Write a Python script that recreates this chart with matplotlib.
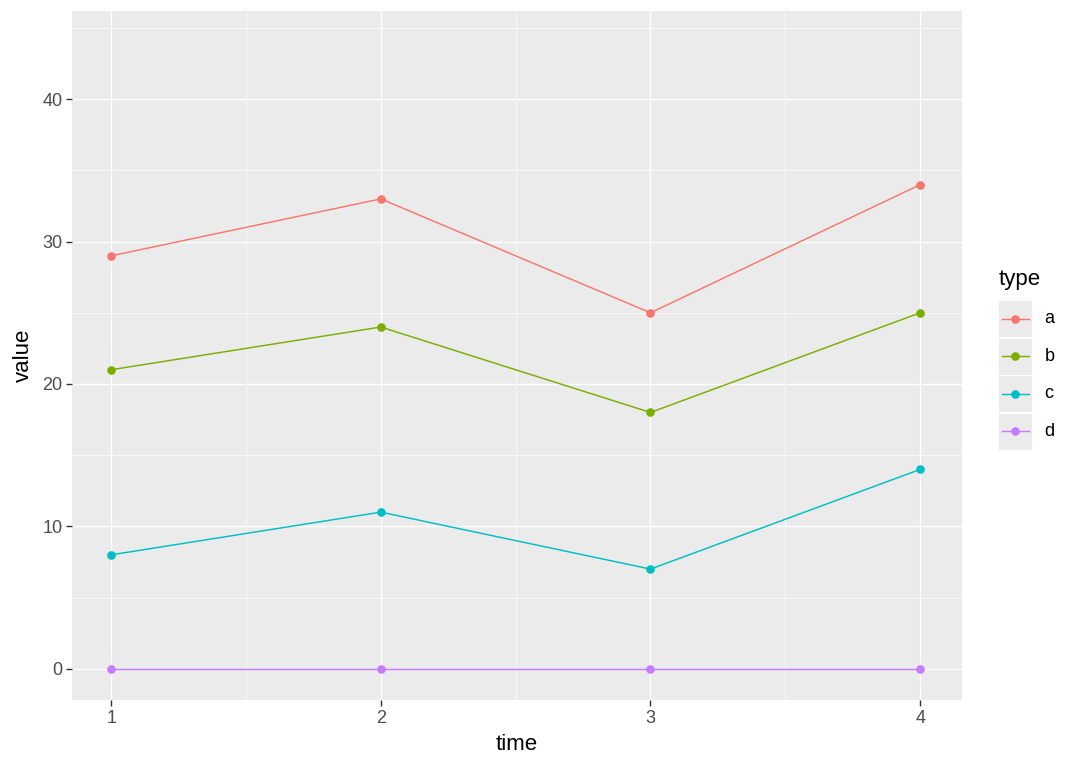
import matplotlib.pyplot as plt
from matplotlib.lines import Line2D
from matplotlib.patches import Rectangle

plt.rcParams['font.family'] = ['Liberation Sans', 'DejaVu Sans']

# data
time = [1, 2, 3, 4]
types = ['a', 'b', 'c', 'd']
values = {
    'a': [29, 33, 25, 34],
    'b': [21, 24, 18, 25],
    'c': [8, 11, 7, 14],
    'd': [0, 0, 0, 0],
}
colors = {'a': '#F8766D', 'b': '#7CAE00', 'c': '#00BFC4', 'd': '#C77CFF'}
x_ticks = [1, 2, 3, 4]
y_ticks = [0, 10, 20, 30, 40]

fig = plt.figure(figsize=(10.8, 7.71), dpi=100)
ax = fig.add_axes([0.0667, 0.092, 0.824, 0.8938])
ax.set_facecolor('#EBEBEB')

for t in types:
    ax.plot(time, values[t], color=colors[t], lw=1.05, marker='o', ms=5.2, zorder=3)

ax.set_xlim(0.855, 4.155)
ax.set_ylim(-2.2, 46.2)
ax.set_xticks(x_ticks)
ax.set_yticks(y_ticks)
ax.set_xticks([1.5, 2.5, 3.5], minor=True)
ax.set_yticks([5, 15, 25, 35, 45], minor=True)
ax.grid(which='major', color='white', lw=1.0, zorder=0)
ax.grid(which='minor', color='white', lw=0.5, zorder=0)
ax.set_axisbelow(True)
for s in ax.spines.values():
    s.set_visible(False)
ax.tick_params(which='major', length=4, width=1, color='#333333',
               labelsize=13, labelcolor='#4D4D4D', pad=3)
ax.tick_params(which='minor', length=0)
ax.set_xlabel('time', fontsize=16, color='black', labelpad=5)
ax.set_ylabel('value', fontsize=16, color='black', labelpad=6)

# legend, drawn like ggplot's guide
fig.text(0.9245, 0.638, 'type', fontsize=16, ha='left', va='center')
key_w, key_h = 34 / 1080, 37 / 771
for i, t in enumerate(types):
    x0 = 0.9245
    y0 = 0.611 - (i + 1) * 37.5 / 771
    fig.patches.append(Rectangle((x0, y0), key_w, key_h, transform=fig.transFigure,
                                 facecolor='#EBEBEB', edgecolor='white', lw=0.6))
    fig.lines.append(Line2D([x0 + 0.003, x0 + key_w - 0.003], [y0 + key_h / 2] * 2,
                            transform=fig.transFigure, color=colors[t], lw=1.05))
    fig.lines.append(Line2D([x0 + key_w / 2], [y0 + key_h / 2], transform=fig.transFigure,
                            color=colors[t], marker='o', ms=5.2, ls='none'))
    fig.text(x0 + key_w + 0.011, y0 + key_h / 2, t, fontsize=13, ha='left', va='center')

fig.savefig('out.png', dpi=100)
